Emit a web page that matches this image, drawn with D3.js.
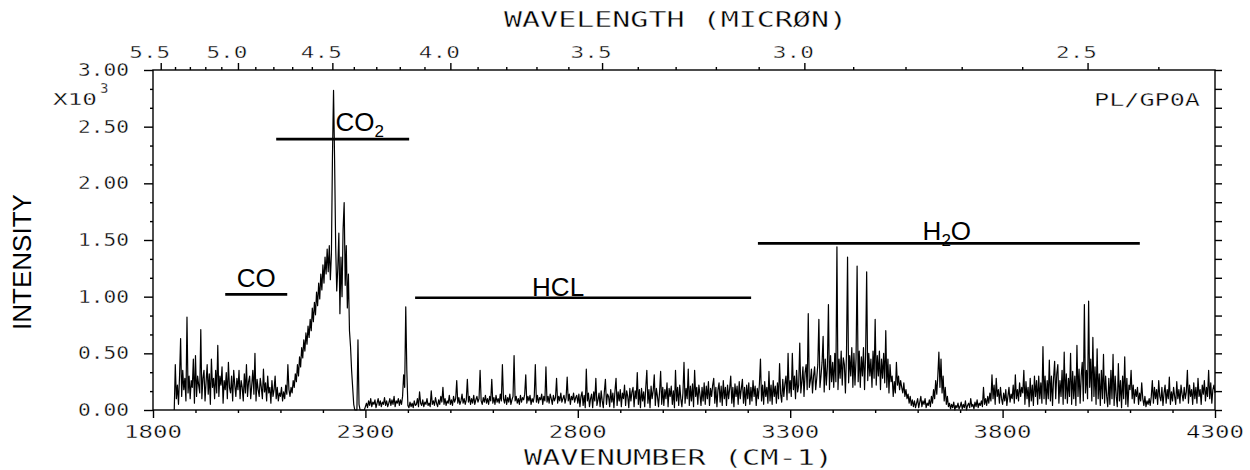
<!DOCTYPE html>
<html><head><meta charset="utf-8">
<script src="https://cdn.jsdelivr.net/npm/d3@7"></script>
<style>body{margin:0;background:#fff}svg{display:block}</style>
</head><body>
<svg id="chart" width="1250" height="470"></svg>
<script>
// ---- data (intensity in units of 10^3, sampled every 2.5 cm-1 from 1850 cm-1) ----
const wavenumberStart = 1850;
const wavenumberStep = 2.5;
const intensity = [
/*1850*/ 0,0.4,0.1,0.22,0.05,0.3,0.63,0.12,0.35,0.18,0.28,0.08,0.82,0.15,0.3,0.1,0.26,0.2,0.45,0.06,
/*1900*/ 0.48,0.12,0.3,0.22,0.15,0.71,0.1,0.28,0.35,0.08,0.25,0.4,0.14,0.32,0.05,0.45,0.2,0.28,0.1,0.35,
/*1950*/ 0.15,0.57,0.12,0.3,0.22,0.38,0.06,0.26,0.18,0.33,0.1,0.42,0.2,0.15,0.3,0.08,0.35,0.22,0.12,0.28,
/*2000*/ 0.18,0.35,0.1,0.26,0.2,0.08,0.32,0.15,0.4,0.12,0.25,0.3,0.1,0.22,0.35,0.14,0.5,0.08,0.27,0.18,
/*2050*/ 0.12,0.28,0.2,0.1,0.36,0.16,0.24,0.08,0.3,0.15,0.2,0.06,0.26,0.12,0.18,0.3,0.1,0.2,0.08,0.15,
/*2100*/ 0.12,0.2,0.08,0.16,0.1,0.22,0.14,0.4,0.18,0.12,0.2,0.15,0.26,0.2,0.32,0.25,0.4,0.3,0.47,0.38,
/*2150*/ 0.55,0.46,0.62,0.52,0.68,0.58,0.74,0.64,0.8,0.7,0.9,0.78,0.95,0.84,1.04,0.92,1.12,0.98,1.2,1.06,
/*2200*/ 1.28,1.12,1.35,1.2,1.42,1.22,1.45,1.15,1.38,2.25,2.82,2.2,1.45,1.05,1.25,1.56,0.85,1.35,1.0,1.6,
/*2250*/ 1.83,1.1,1.45,0.9,1.2,0.7,0.56,0.35,0.2,0.05,0,0,0,0.62,0.05,0,0,0,0,0,
/*2300*/ 0.03,0.06,0.02,0.08,0.04,0.1,0.03,0.07,0.05,0.09,0.02,0.06,0.1,0.04,0.08,0.03,0.07,0.05,0.11,0.04,
/*2350*/ 0.08,0.03,0.06,0.1,0.04,0.09,0.05,0.12,0.03,0.08,0.06,0.1,0.04,0.09,0.05,0.12,0.31,0.2,0.91,0.35,
/*2400*/ 0.04,0.02,0.07,0.03,0.06,0.02,0.08,0.04,0.05,0.1,0.03,0.16,0.06,0.04,0.09,0.03,0.07,0.05,0.1,0.04,
/*2450*/ 0.06,0.03,0.17,0.05,0.08,0.04,0.11,0.06,0.03,0.09,0.05,0.12,0.07,0.2,0.05,0.1,0.04,0.08,0.06,0.13,
/*2500*/ 0.05,0.09,0.04,0.12,0.07,0.1,0.26,0.06,0.11,0.05,0.08,0.14,0.06,0.1,0.05,0.09,0.27,0.07,0.12,0.05,
/*2550*/ 0.1,0.06,0.13,0.05,0.09,0.12,0.07,0.1,0.35,0.08,0.05,0.11,0.07,0.13,0.06,0.1,0.05,0.12,0.08,0.27,
/*2600*/ 0.06,0.11,0.05,0.13,0.07,0.1,0.06,0.14,0.08,0.4,0.1,0.06,0.13,0.05,0.11,0.07,0.14,0.05,0.09,0.12,
/*2650*/ 0.48,0.08,0.12,0.06,0.1,0.05,0.13,0.07,0.11,0.09,0.14,0.31,0.06,0.12,0.08,0.13,0.05,0.1,0.07,0.12,
/*2700*/ 0.4,0.07,0.13,0.06,0.11,0.09,0.14,0.05,0.12,0.08,0.38,0.07,0.12,0.06,0.14,0.1,0.05,0.13,0.08,0.11,
/*2750*/ 0.28,0.06,0.12,0.08,0.15,0.07,0.1,0.13,0.06,0.11,0.29,0.08,0.14,0.05,0.12,0.09,0.15,0.07,0.11,0.13,
/*2800*/ 0.06,0.14,0.03,0.12,0.16,0.04,0.13,0.02,0.36,0.08,0.15,0.03,0.1,0.14,0.02,0.16,0.08,0.28,0.04,0.09,
/*2850*/ 0.15,0.03,0.17,0.08,0.02,0.16,0.27,0.05,0.14,0.12,0.03,0.18,0.07,0.15,0.02,0.17,0.28,0.04,0.16,0.08,
/*2900*/ 0.18,0.03,0.15,0.1,0.22,0.04,0.17,0.12,0.02,0.19,0.08,0.16,0.2,0.03,0.17,0.1,0.33,0.05,0.18,0.02,
/*2950*/ 0.19,0.08,0.16,0.03,0.2,0.35,0.06,0.18,0.02,0.21,0.1,0.17,0.31,0.04,0.19,0.12,0.03,0.16,0.34,0.05,
/*3000*/ 0.2,0.04,0.18,0.1,0.24,0.03,0.19,0.12,0.21,0.05,0.17,0.02,0.35,0.08,0.2,0.04,0.22,0.1,0.03,0.15,
/*3050*/ 0.42,0.06,0.19,0.1,0.36,0.04,0.21,0.08,0.23,0.03,0.35,0.12,0.2,0.05,0.22,0.14,0.04,0.2,0.08,0.24,
/*3100*/ 0.05,0.21,0.1,0.25,0.04,0.19,0.12,0.22,0.28,0.06,0.2,0.03,0.18,0.24,0.07,0.21,0.04,0.26,0.1,0.2,
/*3150*/ 0.04,0.22,0.1,0.19,0.3,0.06,0.2,0.03,0.23,0.12,0.21,0.05,0.25,0.1,0.19,0.27,0.06,0.2,0.04,0.22,
/*3200*/ 0.1,0.24,0.05,0.2,0.08,0.26,0.12,0.21,0.04,0.19,0.1,0.23,0.45,0.08,0.22,0.05,0.25,0.12,0.2,0.06,
/*3250*/ 0.34,0.08,0.22,0.05,0.26,0.12,0.21,0.06,0.24,0.1,0.41,0.14,0.07,0.27,0.12,0.23,0.3,0.09,0.5,0.15,
/*3300*/ 0.26,0.12,0.5,0.18,0.3,0.1,0.35,0.16,0.22,0.59,0.15,0.25,0.38,0.12,0.33,0.4,0.18,0.85,0.2,0.26,
/*3350*/ 0.36,0.15,0.3,0.38,0.18,0.28,0.4,0.8,0.2,0.3,0.42,0.65,0.16,0.45,0.22,0.38,0.93,0.18,0.48,0.25,
/*3400*/ 0.42,0.2,0.5,0.25,1.44,0.18,0.45,0.28,0.52,0.22,0.46,0.4,0.15,0.5,1.35,0.24,0.48,0.3,0.55,0.2,
/*3450*/ 0.5,0.22,0.45,1.27,0.25,0.52,0.2,0.47,0.3,0.55,0.18,0.48,1.22,0.26,0.5,0.3,0.45,0.2,0.52,0.28,
/*3500*/ 0.8,0.22,0.48,0.3,0.52,0.18,0.45,0.28,0.5,0.24,0.7,0.2,0.45,0.15,0.4,0.25,0.3,0.12,0.25,0.15,
/*3550*/ 0.42,0.22,0.3,0.18,0.26,0.2,0.15,0.24,0.12,0.18,0.1,0.14,0.06,0.12,0.04,0.09,0.03,0.08,0.02,0.06,
/*3600*/ 0.1,0.02,0.07,0.12,0.03,0.08,0.05,0.1,0.02,0.06,0.04,0.09,0.03,0.12,0.06,0.18,0.1,0.26,0.14,0.3,
/*3650*/ 0.51,0.2,0.45,0.15,0.3,0.08,0.2,0.05,0.12,0.03,0.06,0.01,0.05,0.02,0.07,0,0.04,0.02,0.06,0.01,
/*3700*/ 0.03,0.07,0.01,0.05,0.02,0.08,0,0.04,0.06,0.02,0.1,0.03,0.05,0.01,0.07,0.03,0.09,0.02,0.06,0.04,
/*3750*/ 0.08,0.03,0.2,0.05,0.1,0.04,0.12,0.06,0.15,0.08,0.31,0.1,0.22,0.05,0.28,0.12,0.18,0.06,0.2,0.1,
/*3800*/ 0.05,0.15,0.08,0.18,0.04,0.12,0.2,0.07,0.14,0.1,0.22,0.06,0.31,0.1,0.18,0.08,0.24,0.12,0.2,0.15,
/*3850*/ 0.35,0.05,0.25,0.1,0.2,0.03,0.28,0.08,0.22,0.04,0.3,0.12,0.26,0.05,0.3,0.1,0.24,0.06,0.56,0.1,
/*3900*/ 0.3,0.05,0.26,0.1,0.44,0.08,0.3,0.04,0.28,0.43,0.1,0.32,0.4,0.06,0.26,0.12,0.35,0.05,0.51,0.1,
/*3950*/ 0.32,0.06,0.28,0.12,0.5,0.05,0.34,0.1,0.3,0.04,0.57,0.12,0.36,0.06,0.3,0.42,0.08,0.93,0.15,0.35,
/*4000*/ 0.1,0.96,0.2,0.45,0.08,0.64,0.12,0.38,0.05,0.54,0.1,0.32,0.04,0.35,0.1,0.49,0.06,0.3,0.12,0.03,
/*4050*/ 0.28,0.05,0.35,0.1,0.49,0.04,0.3,0.12,0.03,0.41,0.08,0.26,0.02,0.3,0.1,0.47,0.05,0.28,0.03,0.22,
/*4100*/ 0.18,0.35,0.1,0.22,0.06,0.18,0.12,0.2,0.05,0.15,0.08,0.24,0.1,0.04,0.12,0.03,0.08,0.05,0.1,0.04,
/*4150*/ 0.12,0.26,0.06,0.2,0.1,0.18,0.05,0.26,0.12,0.08,0.2,0.04,0.15,0.22,0.06,0.18,0.1,0.29,0.05,0.16,
/*4200*/ 0.08,0.2,0.12,0.05,0.25,0.1,0.18,0.06,0.22,0.14,0.08,0.2,0.1,0.16,0.35,0.06,0.22,0.12,0.18,0.05,
/*4250*/ 0.24,0.1,0.2,0.06,0.28,0.12,0.18,0.05,0.22,0.14,0.26,0.08,0.2,0.12,0.35,0.1,0.24,0.06,0.18,0.22,
/*4300*/ 0.15
];

// band annotations (wavenumber range and intensity level of each bar)
const bandNames  = ["CO", "CO2", "HCL", "H2O"];
const bandStart  = [1970, 2090, 2417, 3224];
const bandEnd    = [2116, 2403, 3208, 4123];
const bandLevel  = [1.02, 2.39, 0.99, 1.47];

// axis ticks
const wavenumberTicks = [1800, 2300, 2800, 3300, 3800, 4300];
const intensityTicks  = [0, 0.5, 1.0, 1.5, 2.0, 2.5, 3.0];
const wavelengthTicks = [5.5, 5.0, 4.5, 4.0, 3.5, 3.0, 2.5];
const wavelengthMinor = [5.4,5.3,5.2,5.1,4.9,4.8,4.7,4.6,4.4,4.3,4.2,4.1,3.9,3.8,3.7,3.6,3.4,3.3,3.2,3.1,2.9,2.8,2.7,2.6,2.4];

// ---- drawing ----
const svg = d3.select("#chart");
const L = 153, R = 1215, T = 70, B = 410;
const x = d3.scaleLinear().domain([1800, 4300]).range([L, R]);
const y = d3.scaleLinear().domain([0, 3]).range([B, T]);
const SF = "'DejaVu Sans Mono', monospace";
const AF = "'Liberation Sans', Arial, sans-serif";

function sText(str, tx, ty, size, len, anchor) {
  return svg.append("text").attr("x", tx).attr("y", ty)
    .attr("font-family", SF).attr("font-size", size)
    .attr("text-anchor", anchor || "start")
    .attr("textLength", len).attr("lengthAdjust", "spacingAndGlyphs")
    .attr("fill", "#000").attr("stroke", "#fff").attr("stroke-width", 0.35)
    .text(str);
}

const axisStroke = 1.4;
svg.append("rect").attr("x", L).attr("y", T).attr("width", R - L).attr("height", B - T)
  .attr("fill", "none").attr("stroke", "#000").attr("stroke-width", axisStroke);

const gBottom = svg.append("g").attr("transform", `translate(0,${B})`)
  .call(d3.axisBottom(x).tickValues(wavenumberTicks).tickSize(8).tickFormat(""));
const gBottomMinor = svg.append("g").attr("transform", `translate(0,${B})`)
  .call(d3.axisBottom(x).tickValues(d3.range(1900, 4300, 100).filter(v => v % 500 !== 300)).tickSize(3).tickFormat(""));
const gTop = svg.append("g").attr("transform", `translate(0,${T})`)
  .call(d3.axisTop(x).tickValues(wavelengthTicks.map(w => 10000 / w)).tickSize(7).tickFormat(""));
const gTopMinor = svg.append("g").attr("transform", `translate(0,${T})`)
  .call(d3.axisTop(x).tickValues(wavelengthMinor.map(w => 10000 / w)).tickSize(3).tickFormat(""));
const yMinorVals = d3.range(0, 19).map(k => k / 6).filter(v => Math.abs(v * 2 - Math.round(v * 2)) > 1e-6);
const gLeft = svg.append("g").attr("transform", `translate(${L},0)`)
  .call(d3.axisLeft(y).tickValues(intensityTicks).tickSize(9).tickFormat(""));
const gLeftMinor = svg.append("g").attr("transform", `translate(${L},0)`)
  .call(d3.axisLeft(y).tickValues(yMinorVals).tickSize(3).tickFormat(""));
const gRight = svg.append("g").attr("transform", `translate(${R},0)`)
  .call(d3.axisRight(y).tickValues(intensityTicks.concat(yMinorVals)).tickSize(7).tickFormat(""));
[gBottom, gBottomMinor, gTop, gTopMinor, gLeft, gLeftMinor, gRight].forEach(g => {
  g.select(".domain").remove();
  g.selectAll("line").attr("stroke", "#000").attr("stroke-width", axisStroke);
});

wavenumberTicks.forEach(v => sText(String(v), x(v), 438, 18, 58, "middle"));
intensityTicks.forEach(v => sText(v.toFixed(2), 129, y(v) + 6, 18, 51, "end"));
wavelengthTicks.forEach(w => sText(w.toFixed(1), x(10000 / w) - 11, 58, 15, 41, "middle"));

sText("WAVELENGTH (MICR\u00D8N)", 504, 27, 21, 343, "start");
sText("WAVENUMBER (CM-1)", 524, 465, 21, 309, "start");
const xl = svg.append("text").attr("x", 53).attr("y", 105).attr("font-family", SF).attr("font-size", 16)
  .attr("fill", "#000").attr("stroke", "#fff").attr("stroke-width", 0.3);
xl.append("tspan").text("X10").attr("textLength", 44).attr("lengthAdjust", "spacingAndGlyphs");
xl.append("tspan").attr("dx", 3).attr("dy", -12).attr("font-size", 14).text("3");
sText("PL/GP0A", 1094, 106, 18, 106, "start");

svg.append("text").attr("transform", "translate(31,262) rotate(-90)")
  .attr("text-anchor", "middle").attr("font-family", AF).attr("font-size", 26)
  .attr("fill", "#000").text("INTENSITY");

const line = d3.line()
  .x((d, i) => x(wavenumberStart + i * wavenumberStep))
  .y(d => y(d));
svg.append("path").datum(intensity).attr("d", line)
  .attr("fill", "none").attr("stroke", "#000").attr("stroke-width", 1.2)
  .attr("stroke-linejoin", "round");

bandNames.forEach((n, i) => {
  svg.append("line").attr("x1", x(bandStart[i])).attr("x2", x(bandEnd[i]))
    .attr("y1", y(bandLevel[i])).attr("y2", y(bandLevel[i]))
    .attr("stroke", "#000").attr("stroke-width", 2.6);
});
function molLabel(parts, tx, ty, anchor) {
  const t = svg.append("text").attr("x", tx).attr("y", ty).attr("font-family", AF)
    .attr("font-size", 26).attr("fill", "#000").attr("text-anchor", anchor);
  parts.forEach(p => {
    const s = t.append("tspan").text(p[0]);
    if (p[1] === "sub") s.attr("font-size", 17).attr("dy", 6);
    if (p[1] === "back") s.attr("dy", -6);
  });
}
molLabel([["CO"]], (x(bandStart[0]) + x(bandEnd[0])) / 2, y(bandLevel[0]) - 7, "middle");
molLabel([["CO"], ["2", "sub"]], x(2225) + 2, y(bandLevel[1]) - 8, "start");
molLabel([["HCL"]], (x(bandStart[2]) + x(bandEnd[2])) / 2 - 25, y(bandLevel[2]) - 2, "middle");
molLabel([["H"], ["2", "sub"], ["O", "back"]], (x(bandStart[3]) + x(bandEnd[3])) / 2 - 2, y(bandLevel[3]) - 3, "middle");
</script>
</body></html>
